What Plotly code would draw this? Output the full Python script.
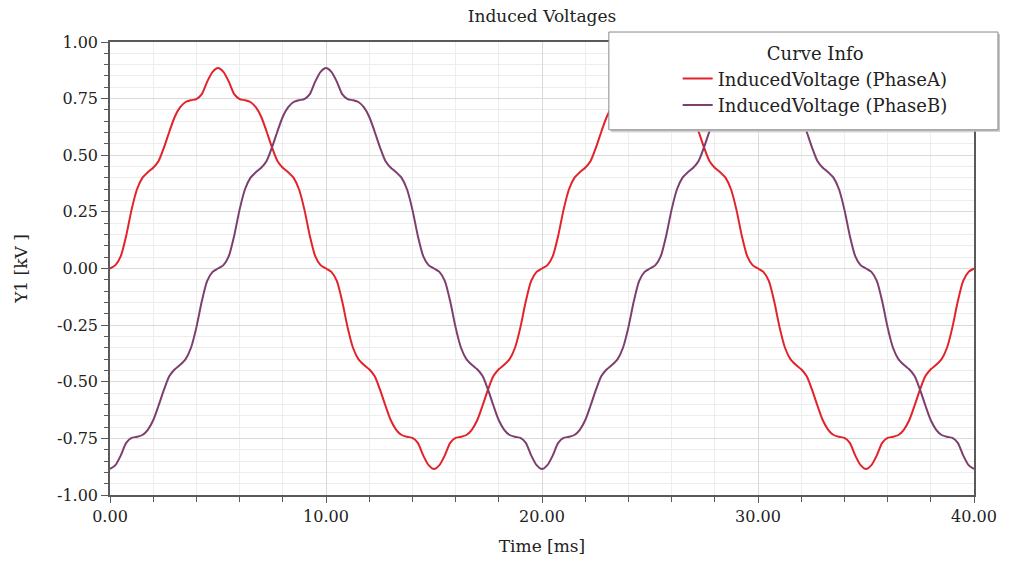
import numpy as np
import plotly.graph_objects as go

# Sample instants of the transient solution (0.25 ms step over two electrical periods)
time_ms = np.linspace(0.0, 40.0, 161)

# Induced voltage, phase A [kV]
phase_a = [
    0.000, 0.015, 0.055, 0.145, 0.260, 0.350, 0.400, 0.425, 0.445, 0.475, 0.535,
    0.605, 0.670, 0.712, 0.735, 0.743, 0.748, 0.770, 0.825, 0.868, 0.885,
    0.868, 0.825, 0.770, 0.748, 0.743, 0.735, 0.712, 0.670, 0.605, 0.535,
    0.475, 0.445, 0.425, 0.400, 0.350, 0.260, 0.145, 0.055, 0.015, 0.000,
    -0.015, -0.055, -0.145, -0.260, -0.350, -0.400, -0.425, -0.445, -0.475, -0.535,
    -0.605, -0.670, -0.712, -0.735, -0.743, -0.748, -0.770, -0.825, -0.868, -0.885,
    -0.868, -0.825, -0.770, -0.748, -0.743, -0.735, -0.712, -0.670, -0.605, -0.535,
    -0.475, -0.445, -0.425, -0.400, -0.350, -0.260, -0.145, -0.055, -0.015, 0.000,
    0.015, 0.055, 0.145, 0.260, 0.350, 0.400, 0.425, 0.445, 0.475, 0.535,
    0.605, 0.670, 0.712, 0.735, 0.743, 0.748, 0.770, 0.825, 0.868, 0.885,
    0.868, 0.825, 0.770, 0.748, 0.743, 0.735, 0.712, 0.670, 0.605, 0.535,
    0.475, 0.445, 0.425, 0.400, 0.350, 0.260, 0.145, 0.055, 0.015, 0.000,
    -0.015, -0.055, -0.145, -0.260, -0.350, -0.400, -0.425, -0.445, -0.475, -0.535,
    -0.605, -0.670, -0.712, -0.735, -0.743, -0.748, -0.770, -0.825, -0.868, -0.885,
    -0.868, -0.825, -0.770, -0.748, -0.743, -0.735, -0.712, -0.670, -0.605, -0.535,
    -0.475, -0.445, -0.425, -0.400, -0.350, -0.260, -0.145, -0.055, -0.015, 0.000,
]

# Induced voltage, phase B [kV]
phase_b = [
    -0.885, -0.868, -0.825, -0.770, -0.748, -0.743, -0.735, -0.712, -0.670, -0.605, -0.535,
    -0.475, -0.445, -0.425, -0.400, -0.350, -0.260, -0.145, -0.055, -0.015, 0.000,
    0.015, 0.055, 0.145, 0.260, 0.350, 0.400, 0.425, 0.445, 0.475, 0.535,
    0.605, 0.670, 0.712, 0.735, 0.743, 0.748, 0.770, 0.825, 0.868, 0.885,
    0.868, 0.825, 0.770, 0.748, 0.743, 0.735, 0.712, 0.670, 0.605, 0.535,
    0.475, 0.445, 0.425, 0.400, 0.350, 0.260, 0.145, 0.055, 0.015, 0.000,
    -0.015, -0.055, -0.145, -0.260, -0.350, -0.400, -0.425, -0.445, -0.475, -0.535,
    -0.605, -0.670, -0.712, -0.735, -0.743, -0.748, -0.770, -0.825, -0.868, -0.885,
    -0.868, -0.825, -0.770, -0.748, -0.743, -0.735, -0.712, -0.670, -0.605, -0.535,
    -0.475, -0.445, -0.425, -0.400, -0.350, -0.260, -0.145, -0.055, -0.015, 0.000,
    0.015, 0.055, 0.145, 0.260, 0.350, 0.400, 0.425, 0.445, 0.475, 0.535,
    0.605, 0.670, 0.712, 0.735, 0.743, 0.748, 0.770, 0.825, 0.868, 0.885,
    0.868, 0.825, 0.770, 0.748, 0.743, 0.735, 0.712, 0.670, 0.605, 0.535,
    0.475, 0.445, 0.425, 0.400, 0.350, 0.260, 0.145, 0.055, 0.015, 0.000,
    -0.015, -0.055, -0.145, -0.260, -0.350, -0.400, -0.425, -0.445, -0.475, -0.535,
    -0.605, -0.670, -0.712, -0.735, -0.743, -0.748, -0.770, -0.825, -0.868, -0.885,
]

series_names = ["InducedVoltage (PhaseA)", "InducedVoltage (PhaseB)"]
series_colors = ["#e3222a", "#7d3f6e"]

x_tick_vals = [0, 10, 20, 30, 40]
x_tick_text = ["0.00", "10.00", "20.00", "30.00", "40.00"]
y_tick_vals = [-1.0, -0.75, -0.5, -0.25, 0.0, 0.25, 0.5, 0.75, 1.0]
y_tick_text = ["-1.00", "-0.75", "-0.50", "-0.25", "0.00", "0.25", "0.50", "0.75", "1.00"]

W, H = 1009, 565
L, R, T, B = 110, 33, 42, 69
PW, PH = W - L - R, H - T - B


def px_x(p):
    return (p - L) / PW


def px_y(p):
    return (H - B - p) / PH


FONT = "DejaVu Serif"

fig = go.Figure()
for vals, name, col in zip([phase_a, phase_b], series_names, series_colors):
    fig.add_trace(go.Scatter(
        x=time_ms, y=vals, mode="lines", name=name,
        line=dict(color=col, width=2, shape="spline", smoothing=0.7),
    ))

axis_common = dict(
    showline=True, linecolor="#5a5a5a", linewidth=1.5, mirror=True,
    ticks="outside", tickcolor="#5a5a5a", showgrid=True, gridcolor="#dadada",
    gridwidth=1, zeroline=False, tickfont=dict(size=16, color="#222"),
)

fig.update_layout(
    width=W, height=H,
    margin=dict(l=L, r=R, t=T, b=B, pad=0),
    paper_bgcolor="white", plot_bgcolor="white",
    font=dict(family=FONT, color="#222"),
    title=dict(text="Induced Voltages", x=0.5, xref="paper", xanchor="center",
               y=1 - 16 / H, yref="container", yanchor="middle",
               font=dict(size=17, color="#222")),
    xaxis=dict(
        range=[0, 40], tickmode="array", tickvals=x_tick_vals, ticktext=x_tick_text,
        ticklen=6,
        minor=dict(dtick=2, ticks="outside", ticklen=5, tickcolor="#5a5a5a",
                   showgrid=True, gridcolor="#ededed"),
        title=dict(text="Time [ms]", font=dict(size=17), standoff=15),
        **axis_common,
    ),
    yaxis=dict(
        range=[-1, 1], tickmode="array", tickvals=y_tick_vals, ticktext=y_tick_text,
        ticklen=7,
        minor=dict(dtick=0.05, ticks="outside", ticklen=4, tickcolor="#5a5a5a",
                   showgrid=True, gridcolor="#ededed"),
        title=dict(text="Y1 [kV ]", font=dict(size=17), standoff=25),
        **axis_common,
    ),
    showlegend=True,
    legend=dict(
        x=px_x(679), y=px_y(37), xanchor="left", yanchor="top",
        bgcolor="rgba(0,0,0,0)", borderwidth=0,
        font=dict(size=18, color="#222"),
        title=dict(text="Curve Info", side="top center", font=dict(size=18)),
    ),
    shapes=[
        # drop shadow of the legend panel
        dict(type="rect", xref="paper", yref="paper", layer="above",
             x0=px_x(612), x1=px_x(1002), y0=px_y(34), y1=px_y(132),
             fillcolor="#c4c4c4", line=dict(width=0)),
        # legend panel
        dict(type="rect", xref="paper", yref="paper", layer="above",
             x0=px_x(610), x1=px_x(1000), y0=px_y(32), y1=px_y(130),
             fillcolor="white", line=dict(color="#8a8a8a", width=1)),
    ],
)

fig.write_html("out.html")
